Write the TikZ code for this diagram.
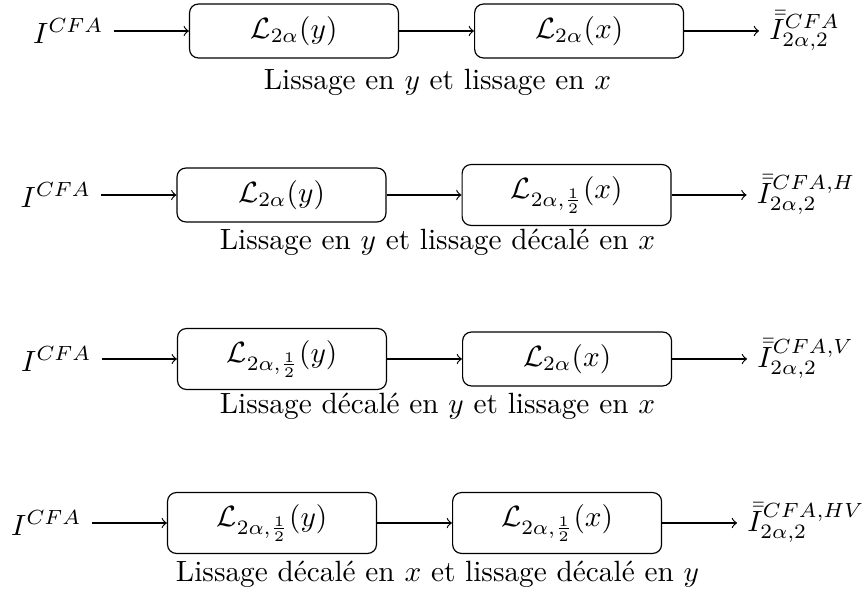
\documentclass[tikz,border=0pt]{standalone}
\usepackage{amsmath}
\usetikzlibrary{positioning}

\tikzset{
  filt/.style={draw, rounded corners=3pt, minimum width=71.3pt, inner ysep=4.2pt},
  flow/.style={->},
  caption/.style={anchor=base},
  node distance=25.6pt
}

\begin{document}
\begin{tikzpicture}[x=0.3413pt, y=-0.3413pt]
  \useasboundingbox (0,0) rectangle (865,597);

  % Chain 1: smoothing in y then in x
  \node[filt] (a1) at (294,31) {$\mathcal{L}_{2\alpha}(y)$};
  \node[filt, right=of a1] (b1) {$\mathcal{L}_{2\alpha}(x)$};
  \node[left=of a1] (i1) {$I^{CFA}$};
  \node[right=of b1] (o1) {$\bar{\bar{I}}^{CFA}_{2\alpha,2}$};
  \draw[flow] (i1) -- (a1);
  \draw[flow] (a1) -- (b1);
  \draw[flow] (b1) -- (o1);
  \node[caption] (c1) at (437.5,90) {Lissage en $y$ et lissage en $x$};

  % Chain 2: smoothing in y then shifted in x
  \node[filt] (a2) at (281.5,195) {$\mathcal{L}_{2\alpha}(y)$};
  \node[filt, right=of a2] (b2) {$\mathcal{L}_{2\alpha,\frac{1}{2}}(x)$};
  \node[left=of a2] (i2) {$I^{CFA}$};
  \node[right=of b2] (o2) {$\bar{\bar{I}}^{CFA,H}_{2\alpha,2}$};
  \draw[flow] (i2) -- (a2);
  \draw[flow] (a2) -- (b2);
  \draw[flow] (b2) -- (o2);
  \node[caption] (c2) at (437.5,250) {Lissage en $y$ et lissage décalé en $x$};

  % Chain 3: shifted in y then smoothing in x
  \node[filt] (a3) at (282,359) {$\mathcal{L}_{2\alpha,\frac{1}{2}}(y)$};
  \node[filt, right=of a3] (b3) {$\mathcal{L}_{2\alpha}(x)$};
  \node[left=of a3] (i3) {$I^{CFA}$};
  \node[right=of b3] (o3) {$\bar{\bar{I}}^{CFA,V}_{2\alpha,2}$};
  \draw[flow] (i3) -- (a3);
  \draw[flow] (a3) -- (b3);
  \draw[flow] (b3) -- (o3);
  \node[caption] (c3) at (437.5,414) {Lissage décalé en $y$ et lissage en $x$};

  % Chain 4: shifted in both directions
  \node[filt] (a4) at (272,523) {$\mathcal{L}_{2\alpha,\frac{1}{2}}(y)$};
  \node[filt, right=of a4] (b4) {$\mathcal{L}_{2\alpha,\frac{1}{2}}(x)$};
  \node[left=of a4] (i4) {$I^{CFA}$};
  \node[right=of b4] (o4) {$\bar{\bar{I}}^{CFA,HV}_{2\alpha,2}$};
  \draw[flow] (i4) -- (a4);
  \draw[flow] (a4) -- (b4);
  \draw[flow] (b4) -- (o4);
  \node[caption] (c4) at (437.5,582) {Lissage décalé en $x$ et lissage décalé en $y$};
\end{tikzpicture}
\end{document}
